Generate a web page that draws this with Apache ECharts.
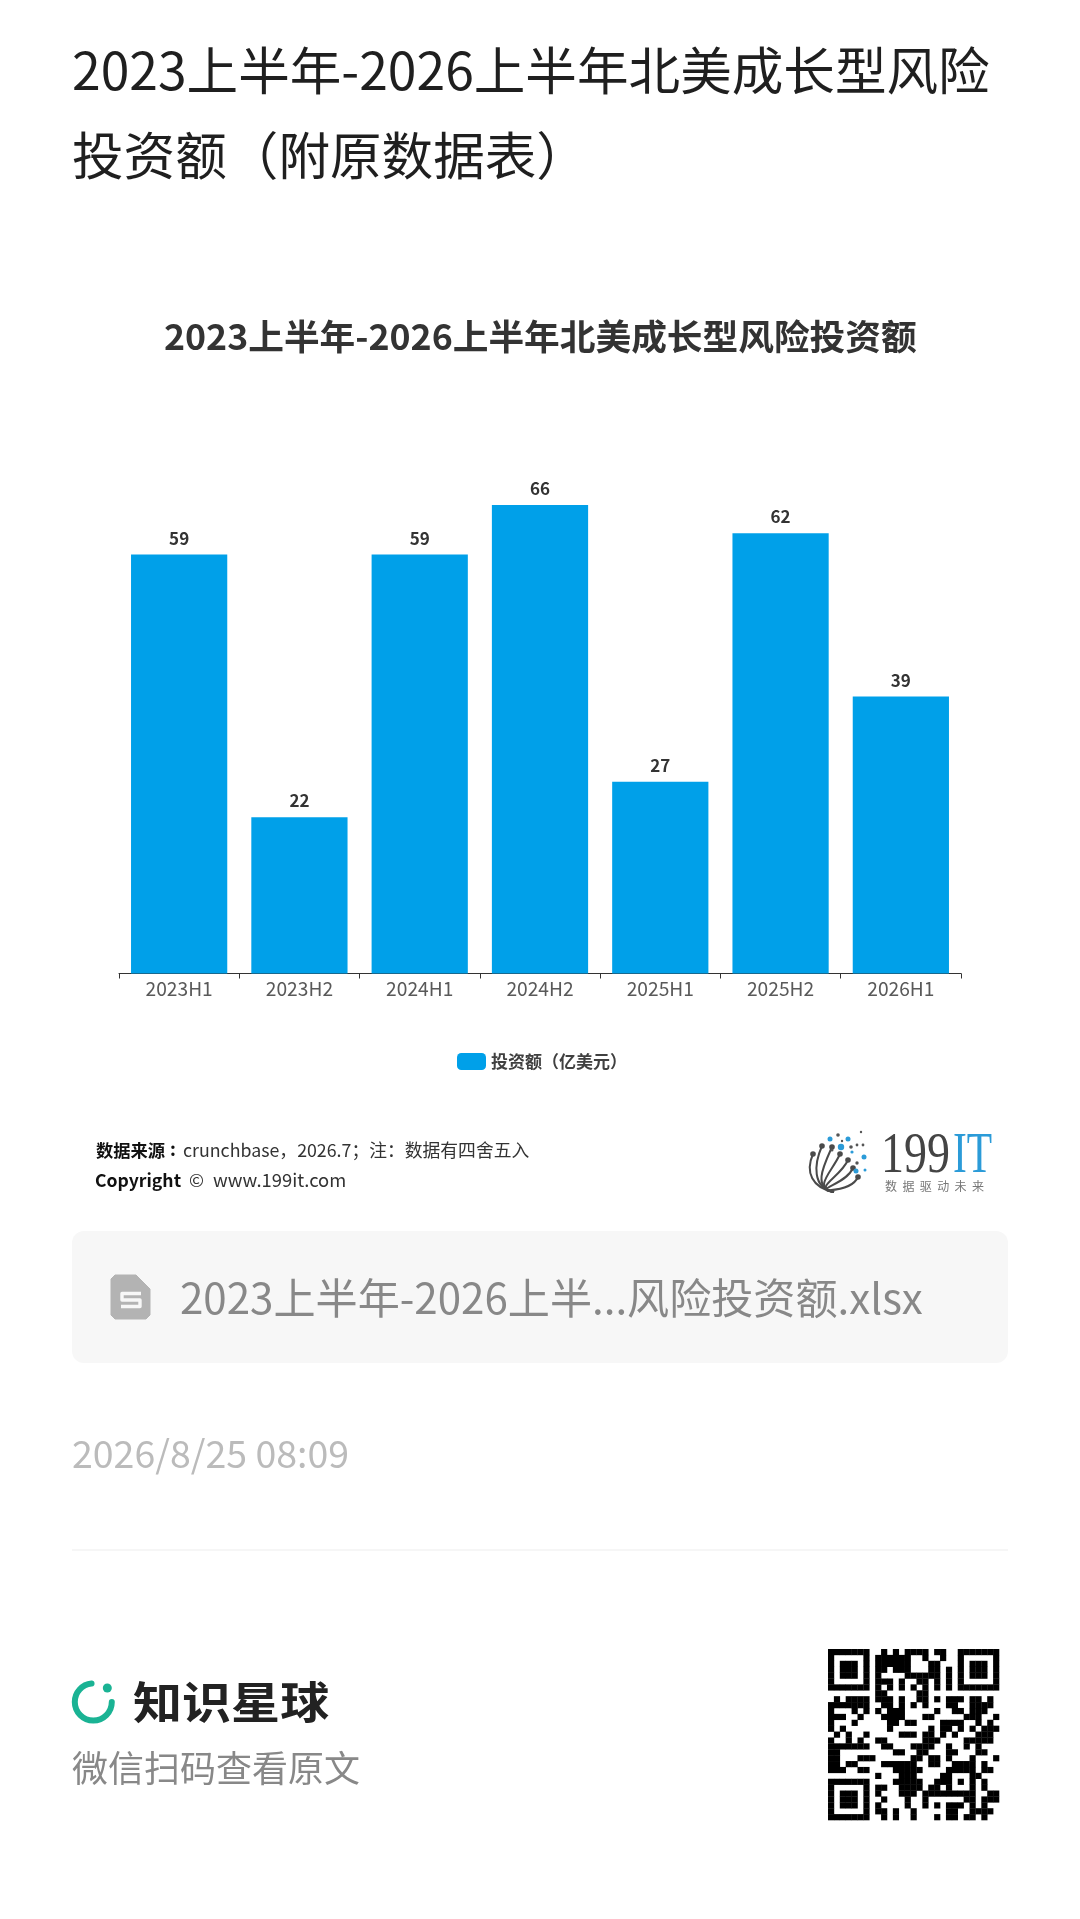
<!DOCTYPE html>
<html><head><meta charset="utf-8">
<style>html,body{margin:0;padding:0;background:#fff}#c{width:1080px;height:1919px}</style>
<script src="https://cdn.jsdelivr.net/npm/echarts@6/dist/echarts.min.js"></script>
</head><body><div id="c"></div>
<script>
const categories = ['2023H1','2023H2','2024H1','2024H2','2025H1','2025H2','2026H1'];
const investment = [59,22,59,66,27,62,39];
const seriesName = '投资额（亿美元）';
const chartTitle = '2023上半年-2026上半年北美成长型风险投资额';
const headingLines = ['2023上半年-2026上半年北美成长型风险','投资额（附原数据表）'];
const fileName = '2023上半年-2026上半...风险投资额.xlsx';
const dateText = '2026/8/25 08:09';
const qrRows = [
"11111110010101111011001111111",
"10000010111111001001001000001",
"10111010111111000110001011101",
"10111010110111000110101011101",
"10111010100001111110101011101",
"10000010111010011010101000001",
"11111110101010101010101111111",
"00000000110000011000000000000",
"01011110111010011010111011010",
"11111110011010101000110011110",
"10001010101110000010011011100",
"11100100011110001100000111001",
"10001000001101100001111001010",
"10100000001000000101101010111",
"01010010000011101101010001110",
"10010100110000001110000111110",
"11111110011000111100100101000",
"11000000000110011000110001100",
"11000111000000110110100010001",
"11011000011111100110011110100",
"11100110000111110000111110110",
"00000000100011100001100011000",
"11111110000111110011101010100",
"10000010110011110110100010100",
"10111010100011101111111110011",
"10111010010001001000000110111",
"10111010100001001010111010100",
"10000010110100100000110011110",
"11111110010100100010110110100"
];
const font = '"Noto Sans CJK SC","Noto Sans",sans-serif';
const g = [];
const T = (text,x,y,size,fill,extra={},el={}) => g.push(Object.assign({type:'text',x,y,silent:true,style:Object.assign({text,fontFamily:font,fontSize:size,fill,verticalAlign:'middle'},extra)},el));
const R = (x,y,w,h,fill,r=0) => g.push({type:'rect',silent:true,shape:{x,y,width:w,height:h,r},style:{fill}});
const C = (cx,cy,r,fill) => g.push({type:'circle',silent:true,shape:{cx,cy,r},style:{fill}});

T(headingLines[0],72,70,51.6,'#1f1f1f');
T(headingLines[1],72,155,51.6,'#1f1f1f');
T('数据来源',96,1150,17.3,'#111',{fontWeight:'bold'});
T(':',170,1149,18,'#111',{fontWeight:'bold'});
T('crunchbase，2026.7；注：数据有四舍五入',183,1150,17.8,'#333');
T('Copyright',95,1180,17.6,'#111',{fontWeight:'bold'});
T('©',189,1180,18,'#333');
T('www.199it.com',213,1180,18.4,'#333');

// 199IT logo
const fan=[[813,1154],[822,1146],[832,1147],[840,1154],[848,1160],[853,1168],[858,1177]];
fan.forEach(p=>{
  g.push({type:'bezierCurve',silent:true,shape:{x1:834,y1:1192,x2:p[0],y2:p[1],cpx1:812,cpy1:1188,cpx2:p[0]-8,cpy2:p[1]+18},style:{stroke:'#4a4a4a',lineWidth:2,fill:null}});
  C(p[0],p[1],2.8,'#4a4a4a');
});
[[830,1139,2.5],[848,1139,2.5],[841,1147,3.2],[864,1157,2.5],[856,1171,2.5],[865,1170,1.5],[852,1152,1.6]].forEach(d=>C(d[0],d[1],d[2],'#2b9bd8'));
[[838,1135,1.8],[861,1132,1.2],[842,1141,1.2],[851,1147,1.8],[857,1145,1.4],[863,1145,1.4],[857,1163,1.7],[832,1150,1.5]].forEach(d=>C(d[0],d[1],d[2],'#555'));
T('199',881,1157,56,'#444',{fontFamily:'"Liberation Serif",serif'},{scaleX:0.82});
T('IT',953,1157,56,'#2b9bd8',{fontFamily:'"Liberation Serif",serif'},{scaleX:0.74});
T('数  据  驱  动  未  来',885,1186,12,'#777');

// attachment card
R(72,1231,936,132,'#f7f7f7',12);
g.push({type:'polygon',silent:true,shape:{points:[[115,1275],[136,1275],[150,1289],[150,1315],[146,1319],[115,1319],[111,1315],[111,1279]]},style:{fill:'#b3b3b3',stroke:'#b3b3b3',lineWidth:1,lineJoin:'round'}});
g.push({type:'polyline',silent:true,shape:{points:[[141,1293.5],[122,1293.5],[122,1300],[140,1300],[140,1306.5],[121,1306.5]]},style:{stroke:'#f7f7f7',lineWidth:3.4,fill:null,lineJoin:'round'}});
T(fileName,180,1298,42.1,'#888888');
T(dateText,72,1454,37.5,'#bbbbbb');
R(72,1549.5,936,1,'#eeeeee');

// footer brand
g.push({type:'arc',silent:true,shape:{cx:93.3,cy:1702,r:18.5,startAngle:0,endAngle:Math.PI*1.47,clockwise:true},style:{stroke:'#1ab394',lineWidth:6,fill:null,lineCap:'round'}});
C(107.3,1688,4.5,'#1ab394');
T('知识星球',133,1702,44,'#222',{fontWeight:'bold'},{scaleX:1.115});
T('微信扫码查看原文',72,1768,36,'#888888');

// QR
const qrX=828,qrY=1649,qrM=171/29;
qrRows.forEach((row,r)=>{ [...row].forEach((b,c)=>{ if(b==='1') R(qrX+c*qrM,qrY+r*qrM,qrM+0.3,qrM+0.3,'#000'); }); });

const chart = echarts.init(document.getElementById('c'),null,{renderer:'canvas'});
chart.setOption({
  animation:false,
  backgroundColor:'#fff',
  title:{text:chartTitle,top:319,padding:0,left:164,textStyle:{fontFamily:font,fontSize:35.7,fontWeight:'bold',color:'#333'}},
  legend:{data:[seriesName],left:457,top:1053,padding:0,itemWidth:29,itemHeight:17,itemGap:6,icon:'roundRect',textStyle:{fontFamily:font,fontSize:17,fontWeight:'bold',color:'#404040'}},
  grid:{left:119,width:842,top:476.5,height:497,containLabel:false},
  xAxis:{type:'category',data:categories,boundaryGap:true,
    axisLine:{lineStyle:{color:'#333',width:1}},
    axisTick:{show:true,alignWithLabel:false,length:5,lineStyle:{color:'#333'}},
    axisLabel:{fontFamily:font,fontSize:19.2,color:'#595959',margin:6,interval:0}},
  yAxis:{type:'value',min:0,max:70,interval:10,show:false,splitLine:{show:false}},
  series:[{name:seriesName,type:'bar',data:investment,barWidth:'80%',itemStyle:{color:'#00a0e9'},
    label:{show:true,position:'top',distance:8,fontFamily:font,fontSize:17,fontWeight:'bold',color:'#333'}}],
  graphic:g
});
</script></body></html>
